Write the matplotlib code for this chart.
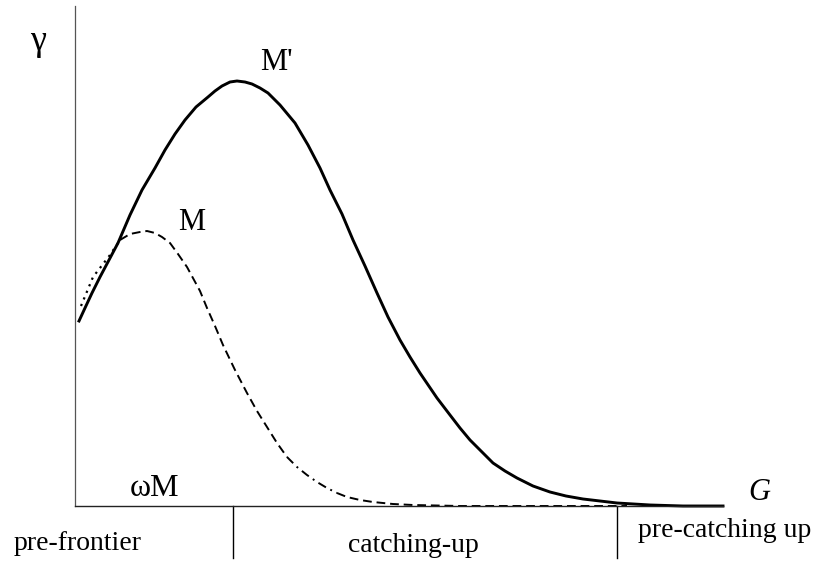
import matplotlib.pyplot as plt
import numpy as np

# curve M' (solid)
gSolid = [4, 10, 17, 25, 34, 43, 55, 67, 80, 90, 100, 110, 121, 133, 140, 147, 155, 162,
          170, 177, 185, 193, 205, 220, 233, 245, 255, 267, 278, 290, 302, 313, 325, 335,
          345, 362, 375, 385, 395, 407, 418, 430, 442, 458, 475, 491, 508, 525, 542, 575,
          608, 648]
ySolid = [185, 198, 213, 229, 246, 263, 291, 316, 338, 356, 372, 386, 399, 409, 415, 420,
          424, 425, 424, 422, 418, 413, 401, 383, 361, 338, 316, 292, 266, 240, 213, 189,
          166, 149, 133, 108, 91, 78, 66, 54, 43, 35, 28, 20, 14, 10, 7, 5, 3, 1, 0, 0]

# curve M (dotted at start, then dashed)
gDot = [6, 18, 35, 45]
yDot = [200, 229, 251, 266]
gDash = [45, 55, 65, 72, 80, 87, 95, 103, 112, 125, 132, 140, 148, 160, 172, 182, 192, 202, 212]
yDash = [266, 272, 274, 275, 273, 269, 263, 252, 239, 215, 198, 180, 161, 136, 113, 95, 79, 63, 49]
gDashDot = [212, 222, 232, 242, 252, 262]
yDashDot = [49, 39, 31, 24, 18, 13]
gTail = [262, 272, 285, 298, 318, 338, 385, 445, 505, 552]
yTail = [13, 9, 6, 4, 2, 1, 0, 0, 0, 0]

confini = [158, 542]
fasi = ["pre-frontier", "catching-up", "pre-catching up"]
fasiX = [3, 338, 650]
fasiY = [-44, -46, -31]

plt.rcParams['font.family'] = ['Liberation Serif', 'DejaVu Serif']

fig = plt.figure(figsize=(8.2, 5.64), dpi=100)
ax = fig.add_axes([75/820, 58/564, 648/820, 500/564])
ax.set_xlim(0, 648)
ax.set_ylim(0, 500)
ax.spines["top"].set_visible(False)
ax.spines["right"].set_visible(False)
ax.spines["left"].set_color("#555555")
ax.spines["bottom"].set_color("#222222")
ax.spines["left"].set_linewidth(0.9)
ax.spines["bottom"].set_linewidth(1.0)
ax.set_xticks([])
ax.set_yticks([])

ax.plot(gSolid, ySolid, "k-", linewidth=2.1, clip_on=False, solid_joinstyle="round")
ax.plot(gDot, yDot, "k", linestyle=(0, (1, 2.2)), linewidth=1.6, clip_on=False)
ax.plot(gDash, yDash, "k", linestyle=(0, (4.5, 2.5)), linewidth=1.4, clip_on=False)
ax.plot(gDashDot, yDashDot, "k", linestyle=(0, (4.5, 2.5, 1, 2.5)), linewidth=1.4, clip_on=False)
ax.plot(gTail, yTail, "k", linestyle=(0, (4.5, 2.5)), linewidth=1.4, clip_on=False)

for c in confini:
    ax.plot([c, c], [0, -52], "k-", linewidth=1.0, clip_on=False)

for testo, x, y in zip(fasi, fasiX, fasiY):
    ax.text(x, y, testo, ha="center", va="baseline", fontsize=20, clip_on=False)

ax.text(-37, 464, "γ", ha="center", va="center", fontsize=26, clip_on=False)
ax.text(185, 444, "M'", ha="left", va="center", fontsize=22)
ax.text(103, 283, "M", ha="left", va="center", fontsize=22)
ax.text(55, 18, "ωM", ha="left", va="center", fontsize=23)
ax.text(673, 13, "G", ha="left", va="center", fontsize=22, style="italic", clip_on=False)

plt.savefig("out.png")
